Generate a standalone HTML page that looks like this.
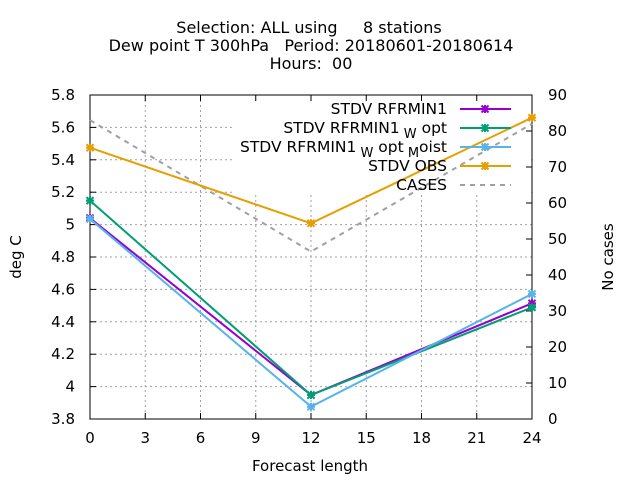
<!DOCTYPE html>
<html><head><meta charset="utf-8"><style>
html,body{margin:0;padding:0;background:#fff}
svg{display:block;font-family:"DejaVu Sans","Liberation Sans",sans-serif}
</style></head><body>
<svg id="chart" width="640" height="480">
<g id="title" font-size="16" text-anchor="middle" fill="#000">
<text x="309" y="33" xml:space="preserve">Selection: ALL using     8 stations</text>
<text x="311" y="51" xml:space="preserve">Dew point T 300hPa   Period: 20180601-20180614</text>
<text x="311" y="69" xml:space="preserve">Hours:  00</text>
</g>
<g id="grid"></g>
<rect x="233" y="96" width="298" height="97" fill="#fff"/>
<g id="axes"></g>
<g id="series"></g>
<g id="legend" font-size="15.5" text-anchor="end"></g>
<text x="0" y="0" transform="translate(21,257) rotate(-90)" text-anchor="middle" font-size="15">deg C</text>
<text x="0" y="0" transform="translate(613,257) rotate(-90)" text-anchor="middle" font-size="15">No cases</text>
<text x="310" y="471" text-anchor="middle" font-size="15">Forecast length</text>
</svg>
<script>
const xTicks=[0,3,6,9,12,15,18,21,24];
const yTicks=[3.8,4,4.2,4.4,4.6,4.8,5,5.2,5.4,5.6,5.8];
const yTickLabels=["3.8","4","4.2","4.4","4.6","4.8","5","5.2","5.4","5.6","5.8"];
const y2Ticks=[0,10,20,30,40,50,60,70,80,90];
const steps=[0,12,24];
const rfrmin1=[5.04,3.948,4.514];
const wopt=[5.148,3.948,4.489];
const wmoist=[5.035,3.876,4.572];
const obs=[5.475,5.008,5.66];
const cases=[83,46.5,82];
const seriesNames=["STDV RFRMIN1","STDV RFRMIN1_W opt","STDV RFRMIN1_W opt_M oist","STDV OBS","CASES"];

const L=90,R=532,T=95,B=419,NS="http://www.w3.org/2000/svg";
const sx=v=>L+(v-0)/24*(R-L);
const sy=v=>B-(v-3.8)/2.0*(B-T);
const sy2=v=>B-v/90*(B-T);
function mk(tag,attrs,parent){const e=document.createElementNS(NS,tag);for(const k in attrs)e.setAttribute(k,attrs[k]);parent.appendChild(e);return e;}
const grid=document.getElementById('grid'),axes=document.getElementById('axes'),ser=document.getElementById('series'),leg=document.getElementById('legend');
xTicks.forEach(v=>{
  if(v>0&&v<24){const g=mk('line',{x1:sx(v),x2:sx(v),y1:T,y2:B,stroke:'#a0a0a0','stroke-dasharray':'2,3','stroke-width':1},grid);
  
  }
  const t1=mk('line',{x1:sx(v),x2:sx(v),y1:B,y2:B-6,stroke:'#000'},axes);
  
  
  const t2=mk('line',{x1:sx(v),x2:sx(v),y1:T,y2:T+6,stroke:'#000'},axes);
  
  
  const lb=mk('text',{x:sx(v),y:B+24,'text-anchor':'middle','font-size':15},axes);lb.textContent=v;
  
  
});
yTicks.forEach((v,i)=>{
  if(i>0&&i<yTicks.length-1){const g=mk('line',{x1:L,x2:R,y1:sy(v),y2:sy(v),stroke:'#a0a0a0','stroke-dasharray':'2,3','stroke-width':1},grid);
  
  }
  const t=mk('line',{x1:L,x2:L+6,y1:sy(v),y2:sy(v),stroke:'#000'},axes);
  
  
  const lb=mk('text',{x:L-15,y:sy(v)+5,'text-anchor':'end','font-size':15},axes);lb.textContent=yTickLabels[i];
  
  
});
y2Ticks.forEach(v=>{
  const t=mk('line',{x1:R,x2:R-6,y1:sy2(v),y2:sy2(v),stroke:'#000'},axes);
  
  
  const lb=mk('text',{x:R+16,y:sy2(v)+5,'text-anchor':'start','font-size':15},axes);lb.textContent=v;
  
  
});
const frame=mk('rect',{x:L,y:T,width:R-L,height:B-T,fill:'none',stroke:'#000'},axes);



function star(x,y,c,p){
  const g=mk('path',{d:`M${x-4},${y}H${x+4}M${x},${y-4}V${y+4}M${x-3.5},${y-3.5}L${x+3.5},${y+3.5}M${x-3.5},${y+3.5}L${x+3.5},${y-3.5}`,stroke:c,'stroke-width':2,fill:'none'},p);
  
  
}
const defs=[[rfrmin1,'#9400d3',sy,false],[wopt,'#009e73',sy,false],[wmoist,'#56b4e9',sy,false],[obs,'#e69f00',sy,false],[cases,'#a0a0a0',sy2,true]];
[4,0,1,2,3].forEach(k=>{
  const [vals,c,f,dash]=defs[k];
  const pts=steps.map((s,i)=>sx(s)+','+f(vals[i])).join(' ');
  const pl=mk('polyline',{points:pts,fill:'none',stroke:c,'stroke-width':2,'stroke-dasharray':dash?'5,5':'none'},ser);
  
  
  if(!dash)steps.forEach((s,i)=>star(sx(s),f(vals[i]),c,ser));
});
const ly=[109,128,147,166,185];
const labels=[
 'STDV RFRMIN1',
 'STDV RFRMIN1<tspan dy="5" font-size="13"> W</tspan><tspan dy="-5"> opt</tspan>',
 'STDV RFRMIN1<tspan dy="5" font-size="13"> W</tspan><tspan dy="-5"> opt</tspan><tspan dy="5" font-size="13"> M</tspan><tspan dy="-5">oist</tspan>',
 'STDV OBS','CASES'];
ly.forEach((y,k)=>{
  const t=mk('text',{x:447,y:y+5},leg);t.innerHTML=labels[k];
  
  
  const c=defs[k][1];
  const l=mk('line',{x1:460,x2:511,y1:y,y2:y,stroke:c,'stroke-width':2,'stroke-dasharray':k==4?'5,5':'none'},leg);
  
  
  if(k<4)star(485,y,c,leg);
});
</script>
</body></html>
